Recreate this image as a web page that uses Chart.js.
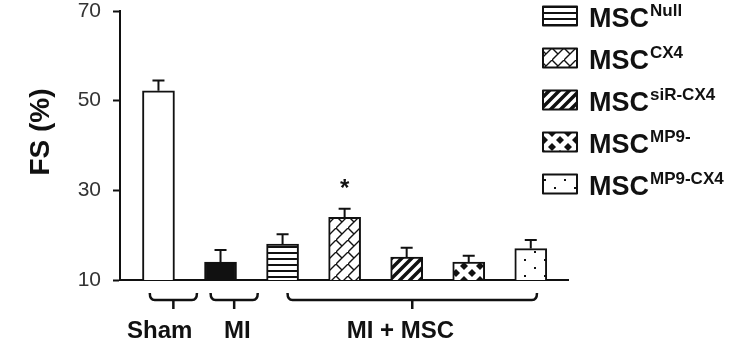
<!DOCTYPE html>
<html>
<head>
<meta charset="utf-8">
<script src="https://cdn.jsdelivr.net/npm/chart.js@4.4.1/dist/chart.umd.min.js"></script>
<style>
  html, body { margin: 0; padding: 0; background: #fff; }
  #wrap { width: 739px; height: 343px; }
</style>
</head>
<body>
<div id="wrap"><canvas id="chart"></canvas></div>
<script>
// values
const categories = ['Sham', 'MI', 'MSC Null', 'MSC CX4', 'MSC siR-CX4', 'MSC MP9-', 'MSC MP9-CX4'];
const fsMeans = [52.2, 14.0, 18.0, 24.0, 15.1, 14.0, 17.0];
const fsErrors = [2.3, 2.7, 2.2, 1.9, 2.1, 1.4, 1.9];
const significance = ['', '', '', '*', '', '', ''];
const yTicks = [10, 30, 50, 70];
const groupLabels = ['Sham', 'MI', 'MI + MSC'];
const groupFirst = [0, 1, 2];
const groupLast = [0, 1, 6];
const legendBase = ['MSC', 'MSC', 'MSC', 'MSC', 'MSC'];
const legendSup = ['Null', 'CX4', 'siR-CX4', 'MP9-', 'MP9-CX4'];
const legendBar = [2, 3, 4, 5, 6];

const INK = '#111';
const FONT = '"Liberation Sans", Arial, sans-serif';

function tile(w, h, draw) {
  const c = document.createElement('canvas');
  c.width = w; c.height = h;
  const g = c.getContext('2d');
  g.fillStyle = '#fff';
  g.fillRect(0, 0, w, h);
  g.strokeStyle = INK;
  g.fillStyle = INK;
  draw(g, w, h);
  return g.createPattern(c, 'repeat');
}

const stripes = tile(8, 6, g => g.fillRect(0, 0, 8, 2));
const bricks = tile(12, 12, g => {
  g.lineWidth = 1.4;
  g.beginPath();
  g.moveTo(-1, 13); g.lineTo(13, -1);
  g.moveTo(0, 0); g.lineTo(6, 6);
  g.stroke();
});
const diagonals = tile(10, 10, g => {
  g.lineWidth = 3.5;
  g.beginPath();
  g.moveTo(-2, 12); g.lineTo(12, -2);
  g.moveTo(-7, 7); g.lineTo(7, -7);
  g.moveTo(3, 17); g.lineTo(17, 3);
  g.stroke();
});
const diamonds = tile(16, 14, g => {
  const d = (x, y) => {
    g.beginPath();
    g.moveTo(x, y - 4); g.lineTo(x + 4, y); g.lineTo(x, y + 4); g.lineTo(x - 4, y);
    g.closePath(); g.fill();
  };
  d(8, 7); d(0, 0); d(16, 0); d(0, 14); d(16, 14);
});
const dots = tile(20, 16, g => {
  g.fillRect(4, 3, 2, 2);
  g.fillRect(14, 11, 2, 2);
});
const fills = ['#fff', INK, stripes, bricks, diagonals, diamonds, dots];

const extras = {
  id: 'extras',
  afterDatasetsDraw(chart) {
    const ctx = chart.ctx;
    const x = chart.scales.x, y = chart.scales.y;
    const step = x.getPixelForValue(1) - x.getPixelForValue(0);
    ctx.save();
    ctx.strokeStyle = INK;
    ctx.fillStyle = INK;

    // error bars (upper only)
    ctx.lineWidth = 2;
    fsMeans.forEach((m, i) => {
      const cx = x.getPixelForValue(i);
      const y0 = y.getPixelForValue(m);
      const y1 = y.getPixelForValue(m + fsErrors[i]);
      ctx.beginPath();
      ctx.moveTo(cx, y0); ctx.lineTo(cx, y1);
      ctx.moveTo(cx - 6, y1); ctx.lineTo(cx + 6, y1);
      ctx.stroke();
      if (significance[i]) {
        ctx.font = 'bold 24px ' + FONT;
        ctx.textAlign = 'center';
        ctx.textBaseline = 'alphabetic';
        ctx.fillText(significance[i], cx, y1 - 13);
      }
    });

    // group brackets and labels under the axis
    const pads = [[-0.14, 0.62], [-0.16, 0.6], [0.08, 0.1]];
    const labelShift = [0.02, 0.27, -0.1];
    const base = chart.chartArea.bottom;
    ctx.lineWidth = 2.5;
    ctx.lineJoin = 'round';
    groupLabels.forEach((lab, k) => {
      const xa = x.getPixelForValue(groupFirst[k]) + pads[k][0] * step;
      const xb = x.getPixelForValue(groupLast[k]) + pads[k][1] * step;
      const xm = (xa + xb) / 2;
      const yl = base + 20;
      ctx.beginPath();
      ctx.moveTo(xa, base + 13);
      ctx.quadraticCurveTo(xa, yl, xa + 5, yl);
      ctx.lineTo(xb - 5, yl);
      ctx.quadraticCurveTo(xb, yl, xb, base + 13);
      ctx.moveTo(xm, yl); ctx.lineTo(xm, base + 29);
      ctx.stroke();
      const tx = x.getPixelForValue((groupFirst[k] + groupLast[k]) / 2) + labelShift[k] * step;
      ctx.font = 'bold 24px ' + FONT;
      ctx.textAlign = 'center';
      ctx.textBaseline = 'alphabetic';
      ctx.fillText(lab, tx, base + 58);
    });

    // y title
    ctx.save();
    ctx.translate(41, 132);
    ctx.rotate(-Math.PI / 2);
    ctx.font = 'bold 28px ' + FONT;
    ctx.textAlign = 'center';
    ctx.textBaseline = 'middle';
    ctx.fillText('FS (%)', 0, 0);
    ctx.restore();

    // legend with superscripts
    const lx = chart.chartArea.right - 25;
    legendSup.forEach((sup, k) => {
      const cy = 16 + k * 42;
      ctx.fillStyle = fills[legendBar[k]];
      ctx.fillRect(lx, cy - 9.5, 34, 19);
      ctx.lineWidth = 2;
      ctx.strokeRect(lx, cy - 9.5, 34, 19);
      ctx.fillStyle = INK;
      ctx.textAlign = 'left';
      ctx.textBaseline = 'alphabetic';
      ctx.font = 'bold 27px ' + FONT;
      ctx.fillText(legendBase[k], lx + 46, cy + 11);
      const w = ctx.measureText(legendBase[k]).width;
      ctx.font = 'bold 17px ' + FONT;
      ctx.fillText(sup, lx + 46 + w + 1, cy);
    });
    ctx.restore();
  }
};

new Chart(document.getElementById('chart'), {
  type: 'bar',
  data: {
    labels: categories,
    datasets: [{
      label: 'FS (%)',
      data: fsMeans.map((v, i) => ({ x: i, y: v })),
      backgroundColor: fills,
      borderColor: INK,
      borderWidth: 2,
      borderSkipped: false,
      barThickness: 32
    }]
  },
  options: {
    responsive: true,
    maintainAspectRatio: false,
    animation: false,
    layout: { padding: { top: 11, right: 171, bottom: 0, left: 0 } },
    plugins: { legend: { display: false }, tooltip: { enabled: false } },
    scales: {
      x: {
        type: 'linear',
        offset: false,
        min: -0.62,
        max: 6.6,
        ticks: { display: false },
        grid: { display: false },
        border: { display: true, width: 2, color: INK },
        afterFit: s => { s.height = 63; s.paddingLeft = 0; s.paddingRight = 0; }
      },
      y: {
        min: 10,
        max: 70,
        afterBuildTicks: s => { s.ticks = yTicks.map(v => ({ value: v })); },
        ticks: {
          color: '#333',
          padding: 12,
          font: { family: FONT, size: 21 }
        },
        grid: { drawOnChartArea: false, tickLength: 7, tickWidth: 2, color: INK },
        border: { display: true, width: 2, color: INK },
        afterFit: s => { s.width = 120; s.paddingTop = 0; s.paddingBottom = 0; }
      }
    }
  },
  plugins: [extras]
});
</script>
</body>
</html>
